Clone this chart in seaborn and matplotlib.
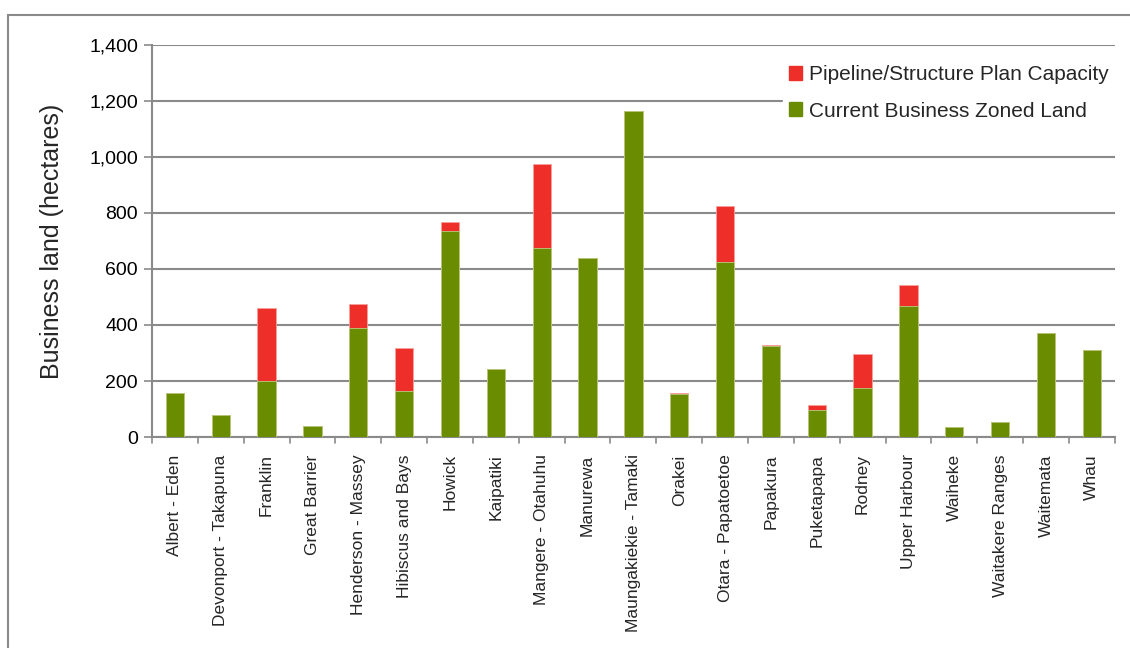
import pandas as pd
import seaborn as sns
import matplotlib.pyplot as plt
from matplotlib.patches import Rectangle, Patch
from matplotlib.ticker import FuncFormatter

# Business land by local board (hectares)
boards = ['Albert - Eden', 'Devonport - Takapuna', 'Franklin', 'Great Barrier',
          'Henderson - Massey', 'Hibiscus and Bays', 'Howick', 'Kaipatiki',
          'Mangere - Otahuhu', 'Manurewa', 'Maungakiekie - Tamaki', 'Orakei',
          'Otara - Papatoetoe', 'Papakura', 'Puketapapa', 'Rodney',
          'Upper Harbour', 'Waiheke', 'Waitakere Ranges', 'Waitemata', 'Whau']
current = [157, 77, 199, 40, 390, 163, 737, 244, 675, 638, 1165, 155,
           626, 326, 98, 174, 467, 37, 55, 371, 310]
pipeline = [0, 0, 261, 0, 86, 156, 32, 0, 300, 0, 0, 2,
            200, 2, 15, 124, 77, 0, 0, 0, 0]

green = '#6a8c00'
red = '#ee2e28'
grid_col = '#8a8a8a'

df = pd.DataFrame({'board': boards, 'current': current, 'pipeline': pipeline})
df['total'] = df['current'] + df['pipeline']

sns.set_style('white')
plt.rcParams['font.family'] = ['Liberation Sans', 'DejaVu Sans']

fig = plt.figure(figsize=(11.3, 6.48), dpi=100)
ax = fig.add_axes([0.1345, 0.3256, 0.852, 0.605])

sns.barplot(data=df, x='board', y='total', color=red, width=0.4,
            saturation=1, edgecolor='#f6a09c', linewidth=0.6, ax=ax, zorder=3)
sns.barplot(data=df, x='board', y='current', color=green, width=0.4,
            saturation=1, edgecolor='#b9cc80', linewidth=0.6, ax=ax, zorder=4)

ax.set_ylim(0, 1400)
ax.set_xlim(-0.5, len(boards) - 0.5)
ax.set_yticks(range(0, 1401, 200))
ax.yaxis.set_major_formatter(FuncFormatter(lambda v, p: f'{int(v):,}'))
ax.grid(axis='y', color=grid_col, linewidth=1.5, zorder=0)
ax.set_axisbelow(True)

for side in ['top', 'right']:
    ax.spines[side].set_visible(False)
for side in ['left', 'bottom']:
    ax.spines[side].set_color(grid_col)
    ax.spines[side].set_linewidth(1.5)

ax.tick_params(axis='y', left=True, length=6, width=1.2, color=grid_col,
               labelsize=14, pad=4, labelcolor='black')
ax.set_xticks(range(len(boards)))
ax.set_xticklabels(boards, rotation=90, fontsize=12.5)
ax.tick_params(axis='x', bottom=False, pad=9)
# ticks between categories
xt = ax.get_xaxis_transform()
for i in range(len(boards) + 1):
    ax.plot([i - 0.5, i - 0.5], [0, -0.015], transform=xt,
            color=grid_col, lw=1.2, clip_on=False)

ax.set_xlabel('')
ax.set_ylabel('Business land (hectares)', fontsize=18, labelpad=18)

handles = [Patch(color=red, label='Pipeline/Structure Plan Capacity'),
           Patch(color=green, label='Current Business Zoned Land')]
leg = ax.legend(handles=handles, loc='upper right', bbox_to_anchor=(1.0, 0.965),
                frameon=True, fontsize=15, handlelength=0.65, handleheight=0.65,
                handletextpad=0.3, labelspacing=0.85, borderaxespad=0,
                borderpad=0.3)
leg.get_frame().set_edgecolor('white')
leg.get_frame().set_facecolor('white')
leg.get_frame().set_alpha(1)
leg.set_zorder(5)

# outer chart border
fig.patches.append(Rectangle((8 / 1130, -0.1), 1.2, 1 - 15 / 648 + 0.1,
                             transform=fig.transFigure, fill=False,
                             edgecolor=grid_col, linewidth=1.5))

fig.savefig('out.png', dpi=100)
